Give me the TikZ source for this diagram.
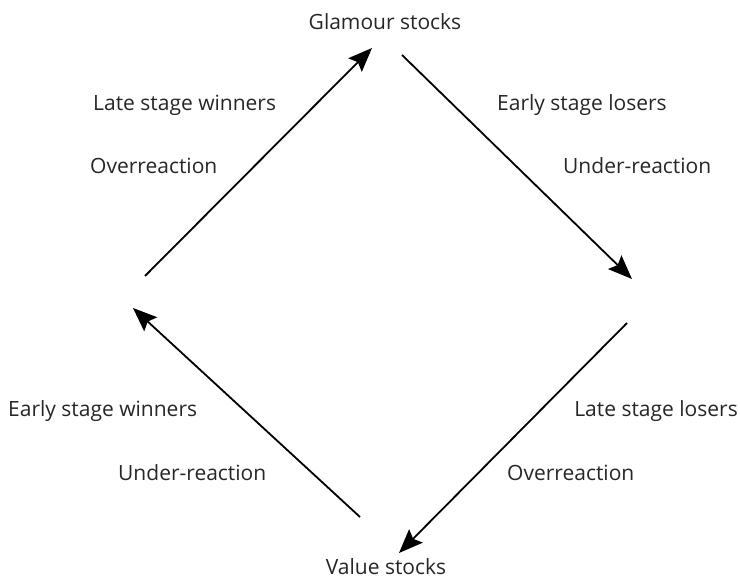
\documentclass[tikz,border=0pt]{standalone}
\usepackage{fontspec}
\setmainfont{Open Sans}
\usetikzlibrary{arrows.meta}
\begin{document}
\begin{tikzpicture}[x=1pt,y=-1pt,
  lbl/.style={font=\fontsize{21}{25}\selectfont, text=black!85, inner sep=0pt},
  flow/.style={line width=1.8pt, -{Stealth[length=24pt,width=19pt,inset=4pt]}}]
\useasboundingbox (0,0) rectangle (740,580);
% stock names
\node[lbl, anchor=base] (glam) at (385,30) {Glamour stocks};
\node[lbl, anchor=base] (val) at (386,574) {Value stocks};
% end points of the four arrows
\coordinate (lt) at (145,276);
\coordinate (tl) at (372,48);
\coordinate (tr) at (402,55);
\coordinate (rt) at (632,279);
\coordinate (rb) at (627,323);
\coordinate (bl) at (399,553);
\coordinate (br) at (360,517);
\coordinate (lb) at (133,308);
\draw[flow] (lt) -- (tl);
\draw[flow] (tr) -- (rt);
\draw[flow] (rb) -- (bl);
\draw[flow] (br) -- (lb);
% stage labels
\node[lbl, anchor=base west] (lsw) at (93,111) {Late stage winners};
\node[lbl, anchor=base west] (ovl) at (90,174) {Overreaction};
\node[lbl, anchor=base west] (esl) at (497,111) {Early stage losers};
\node[lbl, anchor=base west] (unr) at (563,174) {Under-reaction};
\node[lbl, anchor=base west] (esw) at (8,417) {Early stage winners};
\node[lbl, anchor=base west] (unl) at (118,480) {Under-reaction};
\node[lbl, anchor=base east] (lsl) at (738,417) {Late stage losers};
\node[lbl, anchor=base west] (ovr) at (507,480) {Overreaction};
\end{tikzpicture}
\end{document}
